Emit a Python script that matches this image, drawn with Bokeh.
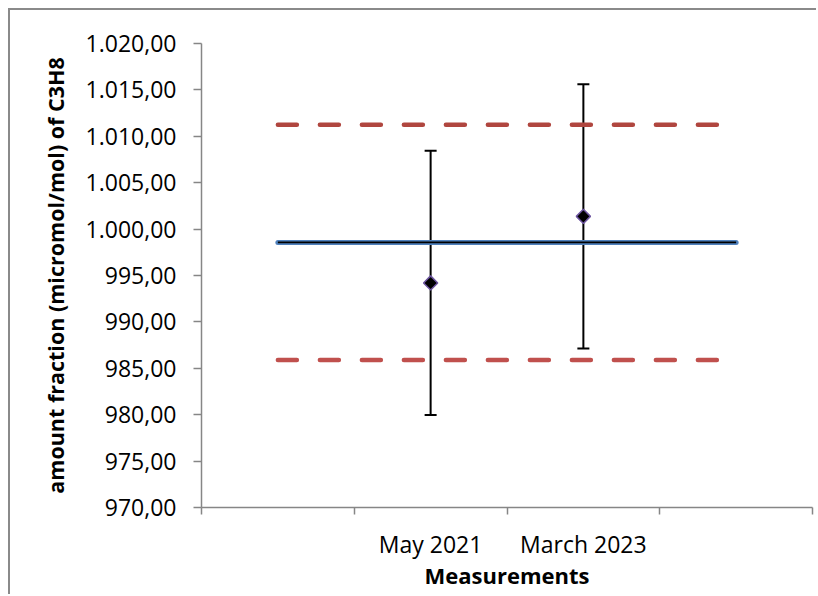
from bokeh.plotting import figure
from bokeh.models import Range1d, FixedTicker, Whisker, TeeHead, ColumnDataSource
from bokeh.embed import file_html
from bokeh.resources import INLINE
import math

# ---- data ----
categories = ["", "May 2021", "March 2023", ""]
meas_labels = ["May 2021", "March 2023"]
meas_values = [994.20, 1001.37]
meas_uncert = [14.24, 14.24]
reference_value = 998.56
reference_upper = 1011.24
reference_lower = 985.90
y_ticks = [970, 975, 980, 985, 990, 995, 1000, 1005, 1010, 1015, 1020]

FONT = "Open Sans"

def euro(v):
    s = f"{v:,.2f}"
    return s.replace(",", "X").replace(".", ",").replace("X", ".")

cat_x = {c: i + 0.5 for i, c in enumerate(categories) if c}
first_x = 0.5
last_x = len(categories) - 0.5

p = figure(width=808, height=586,
           x_range=Range1d(0, len(categories)), y_range=Range1d(y_ticks[0], y_ticks[-1]),
           output_backend="svg", toolbar_location=None,
           min_border_left=191, min_border_right=6, min_border_top=33, min_border_bottom=89)
p.styles = {"margin-left": "8px", "margin-top": "8px",
            "border-left": "2px solid #8a8a8a", "border-top": "2px solid #8a8a8a"}
p.outline_line_color = None
p.xgrid.visible = False
p.ygrid.visible = False
p.background_fill_color = "white"
p.border_fill_color = "white"

AX = "#868686"
# y axis
ya = p.yaxis[0]
ya.ticker = FixedTicker(ticks=y_ticks, minor_ticks=[])
ya.major_label_overrides = {t: euro(t) for t in y_ticks}
ya.axis_line_color = AX
ya.axis_line_width = 1.5
ya.major_tick_line_color = AX
ya.major_tick_line_width = 1.5
ya.major_tick_out = 8
ya.major_tick_in = 0
ya.minor_tick_line_color = None
ya.major_label_text_font = FONT
ya.major_label_text_font_size = "23px"
ya.major_label_text_color = "black"
ya.major_label_standoff = 17
ya.axis_label = "amount fraction (micromol/mol) of C3H8"
ya.axis_label_text_font = FONT
ya.axis_label_text_font_size = "21.5px"
ya.axis_label_text_font_style = "bold"
ya.axis_label_text_color = "black"
ya.axis_label_standoff = 13

# x axis
xa = p.xaxis[0]
xa.ticker = FixedTicker(ticks=[cat_x[c] for c in meas_labels],
                        minor_ticks=list(range(len(categories) + 1)))
xa.major_label_overrides = {cat_x[c]: c for c in meas_labels}
xa.axis_line_color = AX
xa.axis_line_width = 1.5
xa.major_tick_line_color = None
xa.major_tick_out = 0
xa.major_tick_in = 0
xa.minor_tick_line_color = AX
xa.minor_tick_line_width = 1.5
xa.minor_tick_out = 7
xa.minor_tick_in = 0
xa.major_label_text_font = FONT
xa.major_label_text_font_size = "23px"
xa.major_label_text_color = "black"
xa.major_label_standoff = 13
xa.axis_label = "Measurements"
xa.axis_label_text_font = FONT
xa.axis_label_text_font_size = "22px"
xa.axis_label_text_font_style = "bold"
xa.axis_label_text_color = "black"
xa.axis_label_standoff = -3

# reference bounds (dashed red)
p.line([first_x, last_x], [reference_upper, reference_upper], line_color="#b0463f",
       line_width=4.5, line_dash="19 23", line_cap="round")
p.line([first_x, last_x], [reference_lower, reference_lower], line_color="#c0504d",
       line_width=4.5, line_dash="19 23", line_cap="round")

# reference value (blue outlined black)
p.line([first_x, last_x], [reference_value, reference_value], line_color="#4f81bd",
       line_width=5, line_cap="round")
p.line([first_x, last_x], [reference_value, reference_value], line_color="black",
       line_width=1.8)

# measurements with error bars
xs = [cat_x[c] for c in meas_labels]
src = ColumnDataSource(dict(
    x=xs, y=meas_values,
    upper=[v + u for v, u in zip(meas_values, meas_uncert)],
    lower=[v - u for v, u in zip(meas_values, meas_uncert)],
))
w = Whisker(base="x", upper="upper", lower="lower", source=src, dimension="height",
            line_color="black", line_width=2,
            upper_head=TeeHead(size=12, line_color="black", line_width=2),
            lower_head=TeeHead(size=12, line_color="black", line_width=2))
p.add_layout(w)
p.scatter("x", "y", source=src, marker="square", angle=math.pi / 4, size=10,
          fill_color="black", line_color="#6e56a0", line_width=1.5)

open("out.html", "w").write(file_html(p, INLINE))
